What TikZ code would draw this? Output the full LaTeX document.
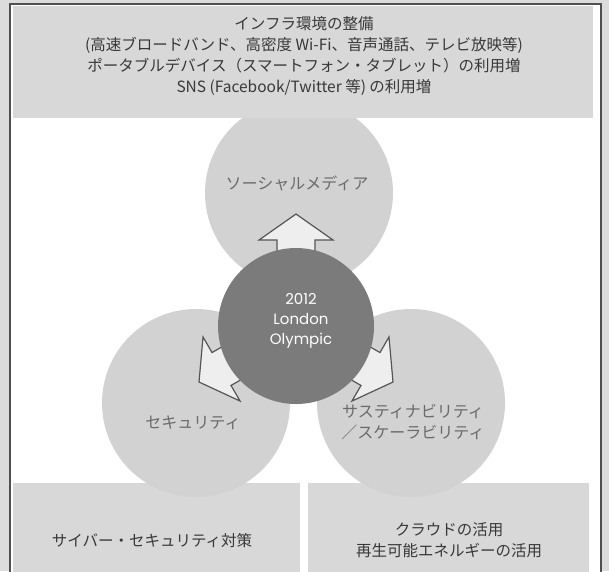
\documentclass[tikz,border=0pt]{standalone}
\usepackage{fontspec}
\newfontfamily\jp{Noto Sans CJK JP}
\newfontfamily\geo{Poppins}
\definecolor{bgout}{HTML}{DCDCDC}
\definecolor{framec}{HTML}{505050}
\definecolor{boxc}{HTML}{D8D8D8}
\definecolor{circc}{HTML}{D2D2D2}
\definecolor{darkc}{HTML}{7B7B7B}
\definecolor{arrowfill}{HTML}{EEEEEE}
\definecolor{arrowline}{HTML}{555555}
\definecolor{txtdark}{HTML}{383838}
\definecolor{txtmid}{HTML}{6A6A6A}
\begin{document}
\begin{tikzpicture}[x=1pt,y=-1pt,
  greybox/.style={fill=boxc,draw=none},
  lightcirc/.style={circle,fill=circc,draw=none,minimum size=188pt,inner sep=0pt},
  darkcirc/.style={circle,fill=darkc,draw=none,minimum size=156pt,inner sep=0pt},
  blockarrow/.style={fill=arrowfill,draw=arrowline,line width=1.2pt,line join=miter},
  boxtext/.style={font=\jp\fontsize{15.5}{21}\selectfont,text=txtdark,align=center,inner sep=0pt},
  circtext/.style={font=\jp\fontsize{16}{21}\selectfont,text=txtmid,align=center,inner sep=0pt},
  centertext/.style={font=\geo\fontsize{15}{20}\selectfont,text=white,align=center,inner sep=0pt}]
\useasboundingbox (0,0) rectangle (609,571);
\clip (0,0) rectangle (609,571);
\fill[bgout] (0,0) rectangle (609,571);
\fill[white] (10,4) rectangle (601,600);
\draw[framec,line width=2pt] (10,4) rectangle (601,600);
% bottom boxes
\fill[greybox] (13,483) rectangle (300,575);
\fill[greybox] (308,483) rectangle (589,575);
% light circles
\node[lightcirc] (media) at (299,193) {};
\node[lightcirc] (sec) at (196,403) {};
\node[lightcirc] (sus) at (411,403) {};
% centre
\coordinate (c) at (296,326);
\foreach \ang in {90,210,330}{
  \begin{scope}[shift={(c)},rotate=\ang]
    \draw[blockarrow] (40,-19) -- (86,-19) -- (86,-37) -- (112,0) -- (86,37) -- (86,19) -- (40,19) -- cycle;
  \end{scope}
}
\node[darkcirc] (olym) at (c) {};
\node[centertext] (olymtxt) at (301,321) {2012\\London\\Olympic};
% top box
\fill[greybox] (13,6) rectangle (593,118);
\node[boxtext] (infra) at (304,56) {インフラ環境の整備\\(高速ブロードバンド、高密度 Wi-Fi、音声通話、テレビ放映等)\\ポータブルデバイス（スマートフォン・タブレット）の利用増\\SNS (Facebook/Twitter 等) の利用増};
% circle texts
\node[circtext] (mediatxt) at (297,183) {ソーシャルメディア};
\node[circtext] (sectxt) at (193,423) {セキュリティ};
\node[circtext] (sustxt) at (413,422) {サスティナビリティ\\／スケーラビリティ};
% bottom texts
\node[boxtext] (cyber) at (152,541) {サイバー・セキュリティ対策};
\node[boxtext] (cloud) at (449,540) {クラウドの活用\\再生可能エネルギーの活用};
\end{tikzpicture}
\end{document}
